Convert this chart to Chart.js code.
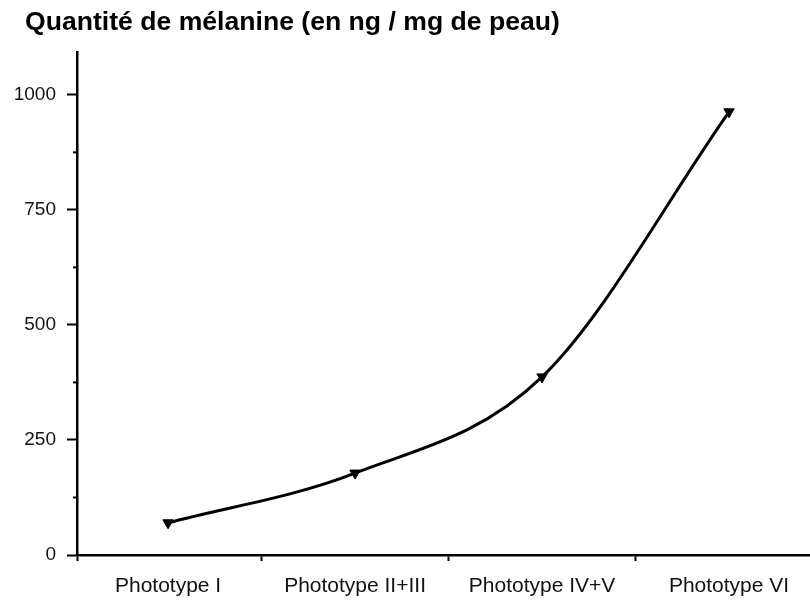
<!DOCTYPE html>
<html>
<head>
<meta charset="utf-8">
<script src="https://cdn.jsdelivr.net/npm/chart.js@4.4.0/dist/chart.umd.min.js"></script>
<style>
  html, body { margin: 0; padding: 0; background: #fff; overflow: hidden; }
  #wrap { position: relative; width: 810px; height: 608px; }
  #titre {
    position: absolute; left: 25px; top: 6px; margin: 0;
    font: bold 26.6px "Liberation Sans", Arial, sans-serif; color: #000;
    white-space: nowrap;
  }
</style>
</head>
<body>
<div id="wrap">
  <canvas id="melanine"></canvas>
  <div id="titre">Quantité de mélanine (en ng / mg de peau)</div>
</div>
<script>
// Données
var categories = ["Phototype I", "Phototype II+III", "Phototype IV+V", "Phototype VI"];
var melanine = [70, 178, 387, 963];
var yTicks = [0, 250, 500, 750, 1000];
var yMinorTicks = [125, 375, 625, 875];
var xBoundaries = [0.5, 1.5, 2.5];

var points = melanine.map(function (v, i) { return { x: i, y: v }; });

// petits traits secondaires sur l'axe Y
var minorTicks = {
  id: 'minorTicks',
  afterDraw: function (chart) {
    var y = chart.scales.y;
    var c = chart.ctx;
    c.save();
    c.strokeStyle = '#000';
    c.lineWidth = 2;
    yMinorTicks.forEach(function (v) {
      var py = y.getPixelForValue(v);
      c.beginPath();
      c.moveTo(y.right - 4, py);
      c.lineTo(y.right, py);
      c.stroke();
    });
    c.restore();
  }
};

var ctx = document.getElementById('melanine');

var config = {
  type: 'line',
  data: {
    datasets: [{
      data: points,
      borderColor: '#000',
      borderWidth: 3,
      cubicInterpolationMode: 'monotone',
      pointStyle: 'triangle',
      rotation: 180,
      pointRadius: 6,
      pointBackgroundColor: '#000',
      pointBorderColor: '#000',
      pointBorderWidth: 1
    }]
  },
  options: {
    responsive: true,
    maintainAspectRatio: false,
    animation: false,
    layout: { autoPadding: false, padding: { left: 0, right: 0, top: 52, bottom: 0 } },
    plugins: {
      legend: { display: false },
      tooltip: { enabled: false },
      title: { display: false }
    },
    scales: {
      x: {
        type: 'linear',
        min: -0.487,
        max: 3.433,
        afterBuildTicks: function (axis) {
          var t = [{ value: -0.487 }];
          xBoundaries.forEach(function (b) { t.push({ value: b }); });
          categories.forEach(function (c, i) { t.push({ value: i }); });
          t.sort(function (a, b) { return a.value - b.value; });
          axis.ticks = t;
        },
        afterFit: function (axis) { axis.height = 53; },
        border: { color: '#000', width: 2.5 },
        grid: {
          drawOnChartArea: false,
          tickLength: 6,
          tickWidth: 2,
          tickColor: function (c) {
            return Number.isInteger(c.tick.value) ? 'rgba(0,0,0,0)' : '#000';
          }
        },
        ticks: {
          autoSkip: false,
          maxRotation: 0,
          padding: 13,
          color: '#111',
          font: { family: 'Liberation Sans, Arial, sans-serif', size: 21 },
          callback: function (v) {
            return Number.isInteger(v) ? categories[v] : '';
          }
        }
      },
      y: {
        min: 0,
        max: 1093,
        afterBuildTicks: function (axis) {
          axis.ticks = yTicks.map(function (v) { return { value: v }; });
        },
        afterFit: function (axis) { axis.width = 77; },
        border: { color: '#000', width: 2.5 },
        grid: {
          drawOnChartArea: false,
          tickLength: 10,
          tickWidth: 2,
          tickColor: '#000'
        },
        ticks: {
          padding: 11,
          color: '#111',
          font: { family: 'Liberation Sans, Arial, sans-serif', size: 19 },
          callback: function (v) { return String(v); }
        }
      }
    }
  },
  plugins: [minorTicks]
};

var chart = new Chart(ctx, config);
</script>
</body>
</html>
